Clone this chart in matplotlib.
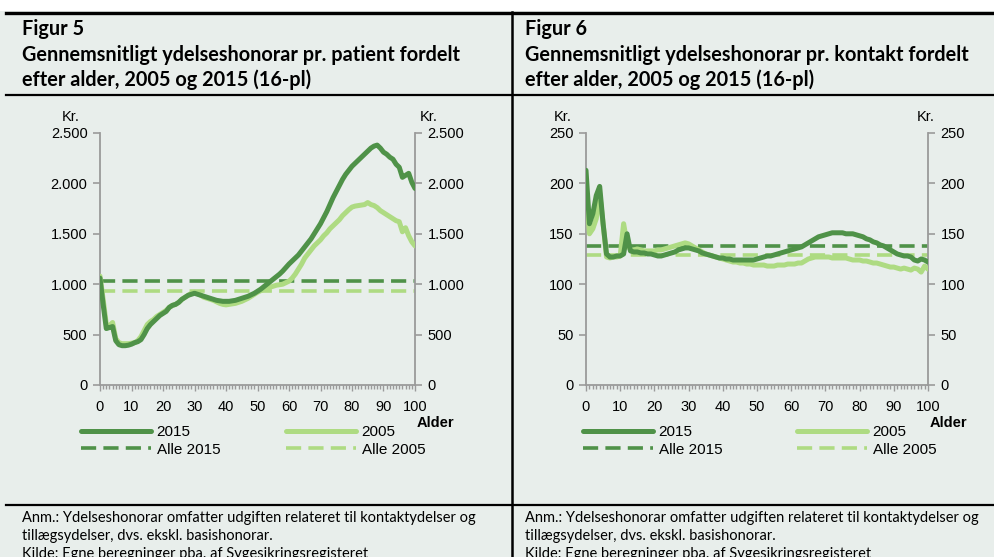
import matplotlib
matplotlib.use("Agg")
import matplotlib.pyplot as plt
from matplotlib.lines import Line2D
from matplotlib.patches import Rectangle
from matplotlib.ticker import MultipleLocator, FuncFormatter

# ---------------- data ----------------
ages = list(range(0, 101))

fig5_2015 = [1060, 800, 560, 570, 580, 440, 400, 390, 390, 395,
             405, 420, 430, 450, 500, 560, 600, 630, 660, 690,
             710, 730, 770, 790, 800, 820, 850, 870, 890, 900,
             910, 900, 890, 880, 870, 860, 850, 840, 835, 830,
             830, 830, 835, 840, 850, 860, 870, 880, 895, 910,
             930, 950, 975, 1000, 1025, 1050, 1075, 1100, 1130, 1165,
             1200, 1230, 1260, 1290, 1330, 1370, 1410, 1450, 1500, 1550,
             1600, 1660, 1720, 1790, 1860, 1920, 1980, 2040, 2090, 2130,
             2170, 2200, 2230, 2260, 2290, 2320, 2350, 2370, 2380, 2350,
             2310, 2290, 2260, 2240, 2190, 2160, 2060, 2080, 2100, 2010,
             1950]
fig5_2005 = [1080, 850, 600, 590, 620, 460, 420, 410, 410, 410,
             415, 420, 440, 480, 540, 600, 630, 650, 680, 700,
             720, 740, 770, 790, 800, 820, 850, 870, 890, 910,
             920, 910, 890, 870, 860, 850, 840, 825, 810, 800,
             795, 800, 805, 810, 820, 830, 845, 860, 880, 900,
             920, 935, 950, 960, 970, 980, 990, 995, 1000, 1015,
             1030, 1060, 1100, 1150, 1200, 1260, 1300, 1340, 1380, 1410,
             1440, 1480, 1510, 1550, 1580, 1610, 1640, 1680, 1710, 1740,
             1765, 1775, 1780, 1785, 1790, 1810, 1790, 1780, 1760, 1730,
             1710, 1690, 1670, 1650, 1630, 1620, 1520, 1560, 1480, 1420,
             1380]
fig5_avg_2015 = 1035
fig5_avg_2005 = 935

fig6_2015 = [213, 160, 170, 188, 197, 160, 130, 127, 127, 128,
             128, 130, 150, 133, 132, 132, 131, 131, 130, 130,
             129, 128, 128, 129, 130, 131, 132, 134, 135, 136,
             136, 135, 134, 133, 131, 130, 129, 128, 127, 126,
             126, 125, 125, 124, 124, 124, 124, 124, 124, 124,
             125, 126, 127, 128, 128, 129, 130, 131, 132, 133,
             134, 135, 136, 137, 139, 141, 143, 145, 147, 148,
             149, 150, 151, 151, 151, 151, 150, 150, 150, 149,
             148, 147, 145, 144, 142, 141, 139, 138, 136, 134,
             132, 130, 129, 128, 128, 127, 124, 123, 125, 124,
             122]
fig6_2005 = [195, 150, 155, 165, 190, 160, 127, 126, 127, 127,
             128, 160, 140, 134, 134, 135, 134, 133, 133, 133,
             133, 134, 134, 135, 136, 137, 138, 139, 140, 141,
             140, 138, 136, 134, 132, 130, 129, 128, 127, 126,
             125, 124, 123, 122, 122, 121, 121, 120, 120, 119,
             119, 119, 119, 118, 118, 118, 119, 119, 119, 120,
             120, 120, 121, 121, 123, 125, 126, 127, 127, 127,
             127, 127, 126, 126, 126, 126, 126, 125, 124, 124,
             124, 123, 123, 122, 121, 121, 120, 119, 118, 117,
             117, 116, 115, 116, 115, 114, 116, 115, 112, 118,
             115]
fig6_avg_2015 = 138
fig6_avg_2005 = 128.5

legend_labels = ["2015", "Alle 2015", "2005", "Alle 2005"]
titles = ["Figur 5", "Figur 6"]
subtitles = ["Gennemsnitligt ydelseshonorar pr. patient fordelt\nefter alder, 2005 og 2015 (16-pl)",
             "Gennemsnitligt ydelseshonorar pr. kontakt fordelt\nefter alder, 2005 og 2015 (16-pl)"]
note_lines = ["Anm.: Ydelseshonorar omfatter udgiften relateret til kontaktydelser og",
              "tillægsydelser, dvs. ekskl. basishonorar.",
              "Kilde: Egne beregninger pba. af Sygesikringsregisteret"]

# ---------------- style ----------------
BG = "#E8EEEB"
DARK = "#4F9248"
LIGHT = "#AEDB82"
SPINE = "#9A9A9A"
W, H = 995, 557
TXT_FONT = ["Lato", "DejaVu Sans"]
AX_FONT = ["Liberation Sans", "DejaVu Sans"]

fig = plt.figure(figsize=(W / 100, H / 100), dpi=100, facecolor=BG)

def fx(px):
    return px / W

def fy(py):
    return 1 - py / H

fig.add_artist(Rectangle((0, fy(11)), 1, 1 - fy(11), transform=fig.transFigure,
                         facecolor="white", edgecolor="none", zorder=0))
fig.add_artist(Line2D([fx(6), 1], [fy(12.5), fy(12.5)], transform=fig.transFigure, color="black", lw=2.4))
fig.add_artist(Line2D([fx(6), 1], [fy(94.5), fy(94.5)], transform=fig.transFigure, color="black", lw=1.6))
fig.add_artist(Line2D([fx(6), 1], [fy(505), fy(505)], transform=fig.transFigure, color="black", lw=1.6))
fig.add_artist(Line2D([fx(511.5), fx(511.5)], [fy(12), 0], transform=fig.transFigure, color="black", lw=1.8))

panels = [
    dict(x0=22, axl=100, axr=415, data=(fig5_2015, fig5_2005), avg=(fig5_avg_2015, fig5_avg_2005),
         ymax=2500, ystep=500, colsp=4.3, leg_x=81, kr=(71, 429)),
    dict(x0=525, axl=586, axr=928, data=(fig6_2015, fig6_2005), avg=(fig6_avg_2015, fig6_avg_2005),
         ymax=250, ystep=50, colsp=4.9, leg_x=583, kr=(563, 926)),
]

def thousands(v, pos):
    return f"{int(v):,}".replace(",", ".")

for i, p in enumerate(panels):
    fig.text(fx(p["x0"]), fy(29), titles[i], family=TXT_FONT, fontweight="bold",
             fontsize=14.3, va="center", ha="left")
    fig.text(fx(p["x0"]), fy(55), subtitles[i].split("\n")[0], family=TXT_FONT, fontweight="bold",
             fontsize=14.3, va="center", ha="left")
    fig.text(fx(p["x0"]), fy(80), subtitles[i].split("\n")[1], family=TXT_FONT, fontweight="bold",
             fontsize=14.3, va="center", ha="left")
    for k, ln in enumerate(note_lines):
        fig.text(fx(p["x0"]), fy(518 + 18 * k), ln, family=TXT_FONT, fontsize=10.5,
                 va="center", ha="left")

    ax = fig.add_axes([fx(p["axl"]), fy(385), fx(p["axr"] - p["axl"]), (385 - 133) / H])
    ax.set_facecolor(BG)
    s15, s05 = p["data"]
    a15, a05 = p["avg"]
    l1, = ax.plot(ages, s15, color=DARK, lw=3.6, solid_capstyle="round", zorder=4)
    l3, = ax.plot(ages, s05, color=LIGHT, lw=3.6, solid_capstyle="round", zorder=3)
    l2, = ax.plot([ages[0], ages[-1]], [a15, a15], color=DARK, lw=2.6, dashes=(4.2, 2.0), zorder=2)
    l4, = ax.plot([ages[0], ages[-1]], [a05, a05], color=LIGHT, lw=2.6, dashes=(4.2, 2.0), zorder=2)

    ax.set_xlim(0, 100)
    ax.set_ylim(0, p["ymax"])
    ax.xaxis.set_major_locator(MultipleLocator(10))
    ax.xaxis.set_minor_locator(MultipleLocator(1))
    ax.yaxis.set_major_locator(MultipleLocator(p["ystep"]))
    ax.yaxis.set_major_formatter(FuncFormatter(thousands))
    for side in ["left", "right", "bottom"]:
        ax.spines[side].set_color(SPINE)
        ax.spines[side].set_linewidth(1.3)
    ax.spines["top"].set_visible(False)
    ax.tick_params(axis="y", which="both", direction="out", length=5, width=1.2, color=SPINE,
                   left=True, right=True, labelleft=True, labelright=True, labelsize=10.5, pad=4)
    ax.tick_params(axis="x", which="major", direction="out", length=4, width=1.0, color=SPINE,
                   labelsize=10.5, pad=7)
    ax.tick_params(axis="x", which="minor", direction="out", length=3, width=1.0, color=SPINE)
    for t in ax.xaxis.get_major_ticks():
        t.label1.set_family(AX_FONT)
    for t in ax.yaxis.get_major_ticks():
        t.label1.set_family(AX_FONT)
        t.label2.set_family(AX_FONT)

    fig.text(fx(p["kr"][0]), fy(117), "Kr.", family=AX_FONT, fontsize=10.5, ha="center", va="center")
    fig.text(fx(p["kr"][1]), fy(117), "Kr.", family=AX_FONT, fontsize=10.5, ha="center", va="center")
    fig.text(fx(p["axr"] + 20), fy(423), "Alder", family=AX_FONT, fontsize=10.5, fontweight="bold",
             ha="center", va="center")

    leg = ax.legend([l1, l2, l3, l4], legend_labels, ncol=2, loc="upper left",
                    bbox_to_anchor=(fx(p["leg_x"]), fy(425)), bbox_transform=fig.transFigure,
                    frameon=False, handlelength=4.6, handletextpad=0.35, labelspacing=0.25,
                    columnspacing=p["colsp"], borderpad=0, borderaxespad=0,
                    prop=dict(family=AX_FONT, size=11))

fig.savefig("out.png", dpi=100, facecolor=BG)
